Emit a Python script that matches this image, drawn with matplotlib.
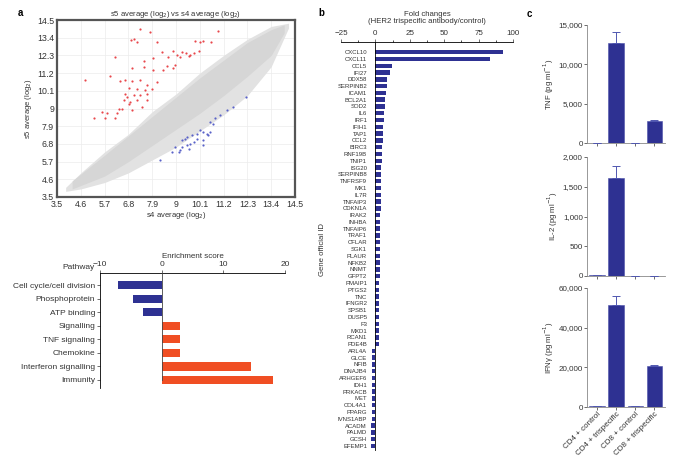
import matplotlib
matplotlib.use("Agg")
import matplotlib.pyplot as plt
import numpy as np
from matplotlib.ticker import FuncFormatter, MultipleLocator

plt.rcParams['font.family'] = ['Liberation Sans', 'DejaVu Sans']
plt.rcParams['axes.linewidth'] = 0.6

# ---------------- data ----------------
# Panel a (scatter): density envelope of gray cloud
cloud_x = [3.9, 4.6, 5.7, 6.8, 7.9, 9.0, 10.1, 11.2, 12.3, 13.4, 14.2]
cloud_lo = [3.85, 4.0, 4.4, 5.0, 5.8, 6.6, 7.6, 8.6, 9.8, 11.6, 14.0]
cloud_hi = [4.1, 5.0, 6.3, 7.4, 8.8, 9.9, 11.2, 12.3, 13.3, 14.1, 14.3]
core_x = [4.2, 5.7, 6.8, 7.9, 9.0, 10.1, 11.2, 12.3, 13.4, 14.0]
core_lo = [4.0, 4.8, 5.7, 6.7, 7.7, 8.7, 9.8, 11.0, 12.3, 13.7]
core_hi = [4.5, 6.1, 7.3, 8.5, 9.7, 10.9, 12.0, 13.1, 13.9, 14.2]

up_x = [7.35, 7.81, 10.92, 6.93, 7.04, 7.19, 8.12, 9.88, 10.12, 10.27, 10.61, 6.19,
        8.35, 8.84, 9.27, 9.45, 9.65, 9.81, 10.04, 7.5, 7.96, 8.65, 9.04, 9.19, 9.58,
        8.96, 8.58, 8.88, 8.42, 7.5, 6.96, 7.96, 4.81, 5.96, 6.42, 6.65, 6.96, 7.35,
        7.65, 8.12, 6.81, 7.19, 7.58, 7.88, 6.65, 6.73, 7.04, 7.35, 7.65, 6.58, 6.88,
        7.19, 7.65, 6.81, 6.35, 6.5, 6.27, 5.58, 5.81, 5.19, 5.73, 6.19, 6.96, 7.42]
up_y = [13.91, 13.77, 13.81, 13.25, 13.29, 13.11, 13.11, 13.21, 13.15, 13.21, 13.11, 12.21,
        12.52, 12.59, 12.52, 12.42, 12.32, 12.42, 12.59, 11.96, 12.15, 12.21, 12.32, 12.21, 12.26,
        11.70, 11.63, 11.49, 11.38, 11.59, 11.49, 11.38, 10.76, 11.03, 10.70, 10.80, 10.70, 10.76,
        10.45, 10.66, 10.30, 10.24, 10.14, 10.24, 9.93, 9.72, 9.83, 9.83, 9.93, 9.52, 9.41,
        9.52, 9.52, 9.27, 8.94, 8.94, 8.69, 8.79, 8.69, 8.44, 8.42, 8.44, 8.89, 9.10]
down_x = [12.22, 11.65, 11.35, 11.04, 10.81, 10.58, 10.73, 10.12, 10.27, 10.42, 9.96, 9.73,
          9.5, 10.58, 10.5, 9.42, 9.27, 9.96, 10.27, 9.81, 9.65, 9.5, 9.27, 9.19, 8.81,
          8.96, 10.27, 9.58, 8.27, 9.12]
down_y = [9.72, 9.10, 8.89, 8.58, 8.38, 8.17, 8.06, 7.65, 7.55, 7.44, 7.44, 7.34,
          7.23, 7.55, 7.34, 7.13, 7.03, 7.13, 7.03, 6.92, 6.82, 6.72, 6.61, 6.40, 6.30,
          6.61, 6.72, 6.51, 5.82, 6.30]
log_ticks = [3.5, 4.6, 5.7, 6.8, 7.9, 9, 10.1, 11.2, 12.3, 13.4, 14.5]

# Panel a (enrichment)
pathways = ['Cell cycle/cell division', 'Phosphoprotein', 'ATP binding', 'Signalling',
            'TNF signaling', 'Chemokine', 'Interferon signalling', 'Immunity']
enrichment = [-7.0, -4.6, -3.0, 2.9, 2.9, 2.9, 14.5, 18.0]

# Panel b
genes = ['CXCL10', 'CXCL11', 'CCL5', 'IFI27', 'DDX58', 'SERPINB2', 'ICAM1', 'BCL2A1',
         'SOD2', 'IL6', 'IRF1', 'IFIH1', 'TAP1', 'CCL2', 'BIRC3', 'RNF19B', 'TNIP1',
         'ISG20', 'SERPINB8', 'TNFRSF9', 'MX1', 'IL7R', 'TNFAIP3', 'CDKN1A', 'IRAK2',
         'INHBA', 'TNFAIP6', 'TRAF1', 'CFLAR', 'SGK1', 'PLAUR', 'NFKB2', 'NNMT', 'GFPT2',
         'PMAIP1', 'PTGS2', 'TNC', 'IFNGR2', 'SPSB1', 'DUSP5', 'F3', 'MXD1', 'RCAN1',
         'PDE4B', 'ARL4A', 'GLCE', 'NFIB', 'DNAJB4', 'ARHGEF6', 'IDH1', 'PRKACB', 'MET',
         'COL4A1', 'PPARG', 'IVNS1ABP', 'ACADM', 'PALMD', 'GCSH', 'EFEMP1']
fold = [93, 83, 12, 10.5, 8.5, 8.3, 7.8, 7.3, 6.8, 6.3, 6.0, 5.8, 5.5, 5.3, 5.1, 4.8, 4.5,
        4.4, 4.3, 4.2, 4.1, 4.0, 3.9, 3.8, 3.7, 3.6, 3.5, 3.4, 3.3, 3.2, 3.2, 3.1, 3.0, 3.0,
        2.9, 2.9, 2.8, 2.8, 2.7, 2.7, 2.6, 2.6, 2.5, 2.5, -2.2, -2.3, -2.3, -2.4, -2.4, -2.5,
        -2.5, -2.6, -2.6, -2.7, -2.8, -2.9, -3.0, -3.2, -3.4]

# Panel c
conditions = ['CD4 + control', 'CD4 + trispecific', 'CD8 + control', 'CD8 + trispecific']
tnf = [60, 12700, 40, 2850]
tnf_err = [0, 1450, 0, 120]
il2 = [10, 1650, 8, 8]
il2_err = [0, 200, 0, 0]
ifng = [300, 51600, 300, 20500]
ifng_err = [0, 4300, 0, 900]

# ---------------- figure ----------------
W, H = 681, 470
fig = plt.figure(figsize=(W / 100, H / 100), dpi=100)

def ax_px(l, t, r, b):
    return fig.add_axes([l / W, 1 - b / H, (r - l) / W, (b - t) / H])

NAVY = '#2e3192'
ORANGE = '#f04e23'
TXT = '#333333'

# ---- Panel a scatter ----
ax = ax_px(57, 20, 295, 197)
ax.fill_between(cloud_x, cloud_lo, cloud_hi, color='#e2e2e2', lw=0, zorder=1)
ax.fill_between(core_x, core_lo, core_hi, color='#d6d6d6', lw=0, zorder=1)
ax.scatter(up_x, up_y, s=2.5, color='#e8474c', lw=0, zorder=3)
ax.scatter(down_x, down_y, s=2.5, color='#5a62c8', lw=0, zorder=3)
ax.set_xlim(3.5, 14.5)
ax.set_ylim(3.5, 14.5)
ax.set_xticks(log_ticks)
ax.set_yticks(log_ticks)
ax.set_xticklabels([f'{t:g}' for t in log_ticks])
ax.set_yticklabels([f'{t:g}' for t in log_ticks])
ax.grid(True, color='#ececec', lw=0.5, zorder=0)
ax.set_axisbelow(True)
ax.tick_params(labelsize=6.3, length=0, pad=2, colors=TXT)
for s in ax.spines.values():
    s.set_linewidth(1.6)
    s.set_color('#555555')
ax.set_title('s5 average (log$_2$) vs s4 average (log$_2$)', fontsize=5.5, pad=2, color=TXT)
ax.set_xlabel('s4 average (log$_2$)', fontsize=5.5, labelpad=1, color=TXT)
ax.set_ylabel('s5 average (log$_2$)', fontsize=5.5, labelpad=2, color=TXT)
fig.text(18 / W, 1 - 13 / H, 'a', fontsize=7, fontweight='bold', va='center')

# ---- Panel a enrichment ----
ax2 = ax_px(100, 273, 285, 388)
ypos = np.arange(len(pathways))
cols = [NAVY if v < 0 else ORANGE for v in enrichment]
ax2.barh(ypos, enrichment, height=0.62, color=cols, zorder=2)
ax2.set_xlim(-10, 20)
ax2.set_ylim(7.6, -0.9)
ax2.axvline(0, color='#444444', lw=0.6, ymin=0.07, zorder=3)
ax2.xaxis.set_ticks_position('top')
ax2.xaxis.set_label_position('top')
ax2.set_xticks([-10, 0, 10, 20])
ax2.set_xticklabels(['\u221210', '0', '10', '20'])
ax2.set_yticks(ypos)
ax2.set_yticklabels(pathways)
ax2.tick_params(labelsize=6, length=2, width=0.5, pad=1.5, colors=TXT)
ax2.spines['right'].set_visible(False)
ax2.spines['bottom'].set_visible(False)
ax2.spines['left'].set_bounds(7.6, -0.9)
ax2.set_xlabel('Enrichment score', fontsize=5.8, labelpad=2, color=TXT)
ax2.text(-10.8, -1.05, 'Pathway', fontsize=6, ha='right', va='bottom', color=TXT)

# ---- Panel b ----
ax3 = ax_px(341, 42, 513, 450)
gy = np.arange(len(genes))
ax3.barh(gy, fold, height=0.65, color=NAVY, zorder=2)
ax3.set_xlim(-25, 100)
ax3.set_ylim(len(genes) - 0.4, -1.5)
ax3.xaxis.set_ticks_position('top')
ax3.xaxis.set_label_position('top')
ax3.set_xticks([-25, 0, 25, 50, 75, 100])
ax3.set_xticklabels(['\u221225', '0', '25', '50', '75', '100'])
ax3.xaxis.set_minor_locator(MultipleLocator(12.5))
ax3.tick_params(axis='x', which='major', labelsize=5.8, length=2.5, width=0.5, pad=1, colors=TXT)
ax3.tick_params(axis='x', which='minor', length=1.5, width=0.5)
ax3.set_yticks(gy)
ax3.set_yticklabels(genes)
ax3.tick_params(axis='y', labelsize=4.3, length=0, pad=6, colors=TXT)
ax3.spines['left'].set_position(('data', 0))
ax3.spines['right'].set_visible(False)
ax3.spines['bottom'].set_visible(False)
ax3.set_xlabel('Fold changes\n(HER2 trispecific antibody/control)', fontsize=5.6,
               labelpad=5, color=TXT, linespacing=1.1)
fig.text(322 / W, 1 - 250 / H, 'Gene official ID', rotation=90, fontsize=5.6,
         ha='center', va='center', color=TXT)
fig.text(318 / W, 1 - 13 / H, 'b', fontsize=7, fontweight='bold', va='center')

# ---- Panel c ----
comma = FuncFormatter(lambda v, p: f'{int(v):,}')
specs = [
    (tnf, tnf_err, 25, 143, 15000, 5000, 'TNF (pg ml$^{-1}$)'),
    (il2, il2_err, 157, 276, 2000, 500, 'IL-2 (pg ml$^{-1}$)'),
    (ifng, ifng_err, 288, 407, 60000, 20000, 'IFN\u03b3 (pg ml$^{-1}$)'),
]
xc = np.arange(len(conditions))
for i, (vals, errs, t, b, ymax, step, lab) in enumerate(specs):
    axc = ax_px(587, t, 665, b)
    axc.bar(xc, vals, width=0.8, color=NAVY, edgecolor='#4a4fa8', lw=0.4, zorder=2)
    axc.errorbar(xc, vals, yerr=[np.zeros(len(errs)), errs], fmt='none',
                 ecolor='#5057b0', elinewidth=0.7, capsize=3, capthick=0.7, zorder=3)
    axc.set_xlim(-0.52, 3.55)
    axc.set_ylim(0, ymax)
    axc.set_yticks(np.arange(0, ymax + 1, step))
    axc.yaxis.set_major_formatter(comma)
    axc.spines['top'].set_visible(False)
    axc.spines['right'].set_visible(False)
    axc.spines['left'].set_color('#888888')
    axc.spines['bottom'].set_color('#888888')
    axc.tick_params(labelsize=5.8, length=2, width=0.5, pad=1, colors=TXT)
    axc.set_ylabel(lab, fontsize=5.6, labelpad=2, color=TXT)
    axc.set_xticks(xc)
    if i < 2:
        axc.set_xticklabels([])
    else:
        axc.set_xticklabels(conditions, rotation=45, ha='right', rotation_mode='anchor')
fig.text(527 / W, 1 - 14 / H, 'c', fontsize=7, fontweight='bold', va='center')

fig.savefig('out.png', dpi=100, facecolor='white')
